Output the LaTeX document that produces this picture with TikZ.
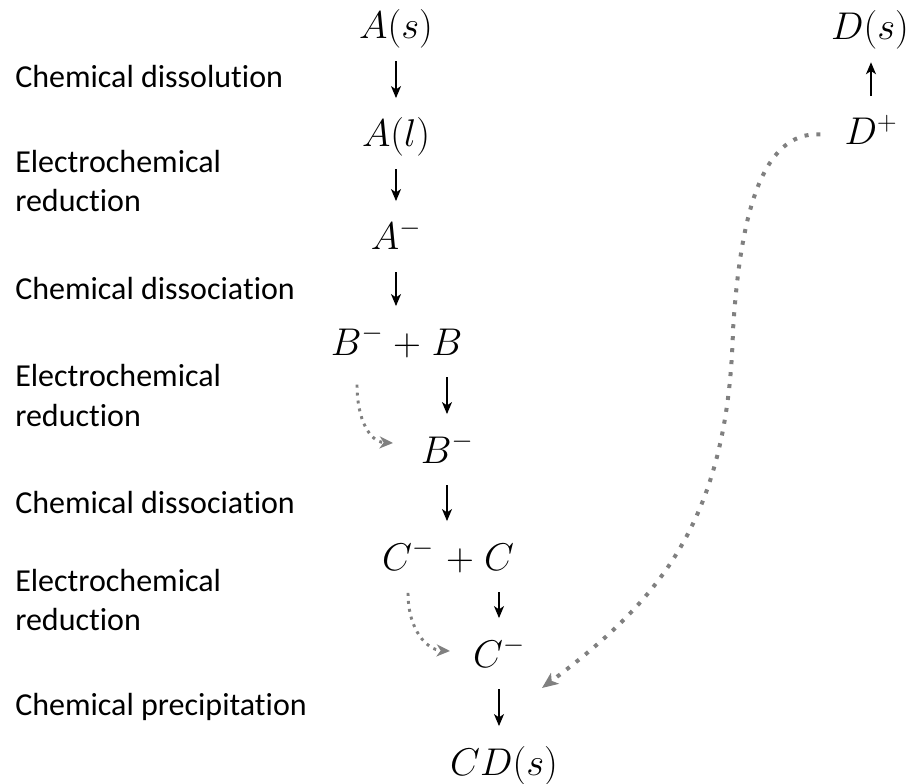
\RequirePackage{fix-cm}
\documentclass[tikz,border=0pt]{standalone}
\usepackage{fontspec}
\setmainfont[Ligatures=NoCommon]{Carlito}
\usetikzlibrary{arrows.meta}
\definecolor{dotgray}{RGB}{128,128,128}
\begin{document}
\begin{tikzpicture}[x=0.75pt,y=-0.75pt,
  lbl/.style={anchor=base west,inner sep=0pt,align=left,font=\fontsize{24}{29.25}\selectfont},
  spc/.style={anchor=base,inner sep=0pt,text height=20pt,text depth=6pt,font=\fontsize{29}{34}\selectfont},
  arr/.style={line width=1.1pt,-{Stealth[length=9pt,width=7.5pt,inset=2.5pt]},shorten <=10.5pt,shorten >=16.5pt},
  arrup/.style={line width=1.1pt,-{Stealth[length=9pt,width=7.5pt,inset=2.5pt]},shorten <=16.5pt,shorten >=10.5pt},
  dotsmall/.style={dotgray,line width=2.2pt,dash pattern=on 2.2pt off 3.8pt,-{Stealth[length=10pt,width=9pt,inset=3pt]}},
  dotbig/.style={dotgray,line width=3pt,dash pattern=on 3pt off 6pt,-{Stealth[length=12pt,width=10pt,inset=3pt]}}]
\useasboundingbox (0,0) rectangle (914,784);
% labels
\node[lbl] (l1) at (15,88) {Chemical dissolution};
\node[lbl] (l2) at (15,212) {Electrochemical\\reduction};
\node[lbl] (l3) at (15,300) {Chemical dissociation};
\node[lbl] (l4) at (15,426) {Electrochemical\\reduction};
\node[lbl] (l5) at (15,513) {Chemical dissociation};
\node[lbl] (l6) at (15,630) {Electrochemical\\reduction};
\node[lbl] (l7) at (15,715) {Chemical precipitation};
% species
\node[spc] (As) at (396,39) {$A(s)$};
\node[spc] (Al) at (396,147) {$A(l)$};
\node[spc] (Am) at (396,250) {$A^-$};
\node[spc] (B1) at (357,355) {$B^-$};
\node[spc] (Bp) at (407,355) {$+$};
\node[spc] (B2) at (447,355) {$B$};
\node[spc] (Bm) at (447,463) {$B^-$};
\node[spc] (C1) at (408,570) {$C^-$};
\node[spc] (Cp) at (460,570) {$+$};
\node[spc] (C2) at (499,570) {$C$};
\node[spc] (Cm) at (499,667) {$C^-$};
\node[spc] (CD) at (504,775) {$CD(s)$};
\node[spc] (Ds) at (870,40) {$D(s)$};
\node[spc] (Dp) at (871,145) {$D^+$};
% black arrows
\draw[arr] (As.south) -- (Al.north);
\draw[arr] (Al.south) -- (Am.north);
\draw[arr] (Am.south) -- (Am.south |- Bp.north);
\draw[arr] (B2.south) -- (B2.south |- Bm.north);
\draw[arr] (Bm.south) -- (Bm.south |- C2.north);
\draw[arr] (C2.south) -- (C2.south |- Cm.north);
\draw[arr] (Cm.south) -- (Cm.south |- CD.north);
\draw[arrup] (Dp.north) -- (Dp.north |- Ds.south);
% dotted gray connectors
\coordinate (t1) at (393,443);
\coordinate (t2) at (450,651);
\coordinate (t3) at (542,688);
\draw[dotsmall,shorten <=16pt] (B1.south) .. controls (357,420) and (370,442) .. (t1);
\draw[dotsmall,shorten <=11pt] (C1.south) .. controls (408,630) and (427,650) .. (t2);
\draw[dotbig,shorten <=18pt] (Dp.west) .. controls (760,131) and (740,220) .. (733,330)
  .. controls (728,520) and (660,600) .. (t3);
\end{tikzpicture}
\end{document}
